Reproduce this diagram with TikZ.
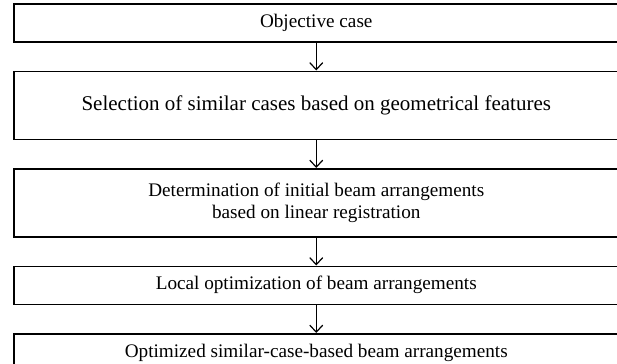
\documentclass[tikz,border=0pt]{standalone}
\usepackage{fontspec}
\setmainfont{Liberation Serif}
\usetikzlibrary{arrows.meta,positioning}
\tikzset{
block/.style = {draw, fill=white, rectangle, align=center, inner sep=0pt, minimum width=302.5pt, font=\fontsize{9.6}{10.8}\selectfont},
flow/.style = {->, line width=0.6pt}
}

\begin{document}
\begin{tikzpicture}[x=0.5pt, y=-0.5pt, node distance=14pt, line width=0.75pt, >={Straight Barb[length=3.5pt,width=6.5pt]}]
   \useasboundingbox (0,0) rectangle (617,364);
   \clip (0,0) rectangle (617,364);
   \node [block, minimum height=19pt, anchor=north west] (obj) at (13,3) {Objective case};
   \node [block, minimum height=34pt, font=\fontsize{10.5}{12}\selectfont, below=of obj] (sel) {Selection of similar cases based on geometrical features};
   \node [block, minimum height=34pt, below=of sel] (init) {Determination of initial beam arrangements\\based on linear registration};
   \node [block, minimum height=19pt, below=of init] (local) {Local optimization of beam arrangements};
   \node [block, minimum height=19pt, below=of local] (result) {Optimized similar-case-based beam arrangements};
   \draw [flow] (obj) -- (sel);
   \draw [flow] (sel) -- (init);
   \draw [flow] (init) -- (local);
   \draw [flow] (local) -- (result);
\end{tikzpicture}
\end{document}
